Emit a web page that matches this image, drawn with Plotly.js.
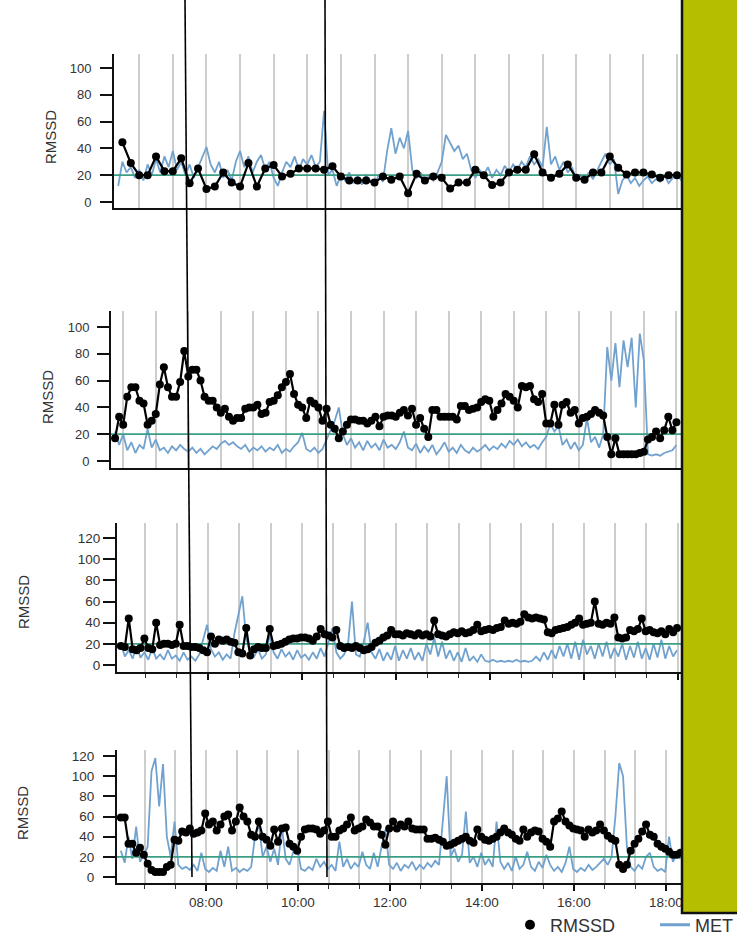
<!DOCTYPE html>
<html><head><meta charset="utf-8">
<script src="https://cdn.plot.ly/plotly-3.0.1.min.js"></script>
<style>html,body{margin:0;padding:0;background:#fff;overflow:hidden}#chart{width:737px;height:940px}</style>
</head><body><div id="chart"></div>
<script>
const DAY = '2024-01-01';
const THRESHOLD = 20;
const yTitle = 'RMSSD';
const legendNames = ['RMSSD', 'MET'];
const xTickFormat = '%H:%M';

// ---- Panel 1 ----
const p1RmssdStart = '06:20', p1RmssdStep = 10;
const p1Rmssd = [44.5,29,20,20,34,23,23,32.6,14,25,9.7,11.5,22,14.5,11.5,29,11.5,25,27.6,19,21,25,25,25,24,26.6,
  19,16,16,16,14.5,19,16.5,19,6.5,21,16,19,18,10,14.5,14.5,24,20,12.7,14.5,22,24,24,35.6,22,18,21,28,18,16.5,
  22,22,34,25.6,20.5,22,22,20.5,18,20,20];
const p1MetStart = '06:15', p1MetStep = 5;
const p1Met = [12,30,22,26,18,24,16,28,20,32, 22,34,26,38,24,30,20,28,18,26, 34,41,28,22,30,18,24,16,30,38,
  26,34,22,30,35,24,30,18,12,22, 30,26,34,24,32,28,35,26,30,68, 20,24,12,20,16,22,14,19,13,20,
  16,12,20,15,38,55,36,48,40,53, 24,18,22,14,20,16,22,30,50,44, 38,42,32,36,24,18,24,20,26,18,
  24,20,27,22,28,24,30,26,34,28, 32,26,56,28,34,24,30,22,26,16, 20,15,22,17,24,30,36,28,32,6,
  16,20,14,18,12,16,19,14,17,15, 20,14,18,22,16];

// ---- Panel 2 ----
const p2Start = '06:30', p2Step = 5;
const p2Rmssd = [17,33,27,48,55,55,45,43,27,30, 35,57,70,55,48,48,59,82,63,68, 68,60,48,45,45,40,36,39,33,30,
  32,32,39,40,40,42,35,36,44,45, 49,55,59,65,50,42,40,32,45,43, 40,30,39,27,24,17,22,27,31,31,
  30,30,28,30,33,26,33,34,34,33, 36,38,34,39,27,32,24,18,38,38, 33,33,33,33,31,41,41,38,39,40,
  44,46,45,33,38,43,50,48,45,40, 56,55,56,46,44,50,28,28,42,27, 42,44,36,38,28,32,33,35,38,36,
  34,18,5,17,5,5,5,5,5,6, 7,16,18,22,17,23,33,23,29];
const p2Met = [22,12,20,8,14,6,12,9,24,10, 16,8,10,6,11,8,12,9,7,10, 6,9,5,8,11,9,13,15,12,14,
  11,9,12,7,10,8,11,7,10,8, 12,6,9,7,11,14,21,9,7,10, 6,9,16,24,30,40,20,12,17,10,
  14,8,15,10,13,8,16,10,12,9, 14,22,10,8,13,6,11,7,12,5, 9,14,7,10,6,12,8,6,10,7,
  9,12,8,11,9,13,10,15,12,16, 11,14,10,12,9,14,18,28,22,26, 12,16,9,14,8,12,32,14,18,10,
  20,85,60,88,55,90,70,92,40,95, 75,5,4,5,4,6,7,8,12];

// ---- Panel 3 ----
const p3Start = '06:09', p3Step = 5;
const p3Rmssd = [18,17,44,15,14,16,25,16,15,40, 19,20,20,19,20,38,18,18,17,17, 16,14,12,27,20,24,23,24,22,21,
  12,11,35,9,15,17,16,16,34,18, 19,20,22,24,25,25,26,26,25,23, 27,34,29,28,26,33,18,16,17,16,
  18,16,14,15,17,21,23,26,28,33, 29,29,28,30,29,28,30,28,29,27, 42,29,28,27,29,31,30,32,30,31,
  33,38,32,33,34,33,35,36,42,39, 40,39,41,48,45,44,45,44,43,31, 30,33,34,35,36,38,40,44,38,39,
  40,60,39,38,40,39,45,26,25,26, 33,32,34,44,32,33,31,30,32,29, 34,31,35];
const p3Met = [20,8,14,6,18,7,12,5,16,6, 10,5,14,6,9,4,12,5,8,4, 10,25,38,15,8,12,5,10,6,30,
  48,65,25,12,8,15,6,10,28,12, 6,15,8,12,5,14,7,10,5,12, 6,16,8,22,35,12,6,10,20,60,
  10,8,22,40,12,6,15,4,12,5, 18,4,14,6,16,5,12,4,20,10, 26,8,22,6,14,4,12,3,16,4,
  8,3,10,4,3,5,3,4,3,4, 3,5,3,4,3,4,8,4,12,5, 14,6,18,8,20,6,22,5,24,10,
  18,6,20,8,22,6,16,8,20,5, 18,7,22,6,16,5,20,7,24,6, 18,8,14];

// ---- Panel 4 ----
const p4Start = '06:09', p4Step = 5;
const p4Rmssd = [59,59,33,33,24,29,22,13,7,5, 5,5,10,12,37,36,45,44,48,43, 44,46,63,52,55,46,52,60,62,46,
  55,69,60,55,42,40,55,40,37,31, 47,35,48,49,33,30,26,40,47,48, 48,47,43,46,55,40,40,46,48,52,
  59,46,48,50,57,54,50,50,42,32, 48,55,48,52,50,55,48,47,47,47, 38,38,39,37,35,31,32,34,36,38,
  40,36,34,47,40,37,36,38,40,44, 48,44,42,38,36,47,40,44,46,45, 38,35,30,55,58,65,55,51,48,47,
  46,40,47,44,46,52,46,41,38,36, 12,8,12,26,33,38,45,52,42,40, 33,30,28,25,22,22,24];
const p4Met = [26,14,40,18,50,15,22,30,105,118, 70,112,40,20,55,12,8,10,7,12, 6,24,8,5,9,6,26,10,30,6,
  9,5,8,6,10,40,52,20,30,15, 28,12,50,18,12,25,30,8,6,10, 7,18,10,15,8,12,6,35,10,18,
  8,14,10,25,12,8,24,10,30,47, 12,8,14,6,12,9,15,7,12,8, 14,10,16,12,56,100,20,28,15,22,
  65,14,20,10,24,12,18,10,55,15, 8,14,6,20,8,12,25,10,6,15, 9,22,12,6,10,5,14,30,8,5,
  9,6,12,7,10,14,18,12,20,60, 113,100,30,10,6,12,8,20,24,10, 6,8,5,40,15,22,18];

// y tick values per panel
const p1YTicks = [0,20,40,60,80,100];
const p2YTicks = [0,20,40,60,80,100];
const p3YTicks = [0,20,40,60,80,100,120];
const p4YTicks = [0,20,40,60,80,100,120];

// ---------- helpers ----------
function times(start, stepMin, n) {
  const [h, m] = start.split(':').map(Number);
  const out = [];
  for (let i = 0; i < n; i++) {
    const t = h * 60 + m + i * stepMin;
    out.push(DAY + ' ' + String(Math.floor(t / 60)).padStart(2, '0') + ':' + String(t % 60).padStart(2, '0'));
  }
  return out;
}
const W = 737, H = 940;
const fx = p => p / W;
const fy = p => 1 - p / H;
const D = s => DAY + ' ' + s;

const COL_MET = '#71a2cf', COL_THR = '#3a9e84', COL_R = '#000000';
const GRID = '#cdcdcd';

const panels = [
  {rx: times(p1RmssdStart, p1RmssdStep, p1Rmssd.length), r: p1Rmssd,
   mx: times(p1MetStart, p1MetStep, p1Met.length), m: p1Met,
   range: [D('06:10'), D('18:29')], xl: 114, yt: 54, yb: 208, yr: [-4.5, 110.4], yticks: p1YTicks,
   xticks: false, xlabels: false, font: 13, standoff: 6, titleX: 50, titleY: 137},
  {rx: times(p2Start, p2Step, p2Rmssd.length), r: p2Rmssd,
   mx: times(p2Start, p2Step, p2Met.length), m: p2Met,
   range: [D('06:25'), D('19:12')], xl: 111, yt: 311, yb: 468, yr: [-5.2, 111.9], yticks: p2YTicks,
   xticks: false, xlabels: false, font: 13, standoff: 5, titleX: 47, titleY: 397},
  {rx: times(p3Start, p3Step, p3Rmssd.length), r: p3Rmssd,
   mx: times(p3Start, p3Step, p3Met.length), m: p3Met,
   range: [D('06:04'), D('19:13')], xl: 117, yt: 523, yb: 672, yr: [-6.6, 134.2], yticks: p3YTicks,
   xticks: true, xlabels: false, font: 13.5, standoff: 0, titleX: 23, titleY: 602},
  {rx: times(p4Start, p4Step, p4Rmssd.length), r: p4Rmssd,
   mx: times(p4Start, p4Step, p4Met.length), m: p4Met,
   range: [D('06:04'), D('19:30')], xl: 117, yt: 750, yb: 883, yr: [-6, 126], yticks: p4YTicks,
   xticks: true, xlabels: true, font: 13.5, standoff: 6, titleX: 22, titleY: 813},
];

const traces = [];
const layout = {
  width: W, height: H,
  margin: {l: 0, r: 0, t: 0, b: 0, pad: 0, autoexpand: false},
  paper_bgcolor: '#fff', plot_bgcolor: 'rgba(0,0,0,0)',
  font: {family: 'Liberation Sans, Arial, sans-serif', color: '#333'},
  showlegend: true,
  legend: {orientation: 'h', x: fx(510), xanchor: 'left', y: fy(925), yanchor: 'middle',
           font: {size: 18, color: '#333'}, bgcolor: 'rgba(0,0,0,0)', entrywidth: 100, entrywidthmode: 'pixels'},
  annotations: [], shapes: []
};

panels.forEach((p, k) => {
  const n = k === 0 ? '' : String(k + 1);
  const xa = 'x' + n, ya = 'y' + n;
  traces.push({x: p.mx, y: p.m, xaxis: xa, yaxis: ya, mode: 'lines', showlegend: false,
               line: {color: COL_MET, width: 1.8}, hoverinfo: 'skip'});
  traces.push({x: p.range, y: [THRESHOLD, THRESHOLD], xaxis: xa, yaxis: ya, mode: 'lines', showlegend: false,
               line: {color: COL_THR, width: 1.8}, hoverinfo: 'skip'});
  traces.push({x: p.rx, y: p.r, xaxis: xa, yaxis: ya, mode: 'lines+markers', showlegend: false,
               line: {color: COL_R, width: 2.2}, marker: {color: COL_R, size: 8}});
  layout['xaxis' + n] = {
    type: 'date', domain: [fx(p.xl), fx(735)], range: p.range, anchor: ya,
    showline: true, linecolor: '#111', linewidth: 2, zeroline: false,
    tick0: D('00:00'), dtick: 7200000,
    showgrid: true, gridcolor: GRID, gridwidth: 2,
    ticks: p.xticks ? 'outside' : '', ticklen: 6, tickwidth: 1.5, tickcolor: '#111',
    showticklabels: p.xlabels, tickformat: xTickFormat, tickfont: {size: 13.5, color: '#333'},
    minor: {tick0: D('00:00'), dtick: 2400000, showgrid: true, gridcolor: GRID, gridwidth: 2,
            ticks: p.xticks ? 'outside' : '', ticklen: 4, tickwidth: 1, tickcolor: '#333'},
    fixedrange: true
  };
  layout['yaxis' + n] = {
    domain: [fy(p.yb), fy(p.yt)], range: p.yr, anchor: xa,
    showline: true, linecolor: '#111', linewidth: 2, zeroline: false, showgrid: false,
    tickmode: 'array', tickvals: p.yticks, ticks: 'outside', ticklen: 12, tickwidth: 2, tickcolor: '#111',
    tickfont: {size: p.font, color: '#333'}, ticklabelstandoff: p.standoff, fixedrange: true
  };
  layout.annotations.push({xref: 'paper', yref: 'paper', x: fx(p.titleX), y: fy(p.titleY),
    text: yTitle, textangle: -90, showarrow: false, xanchor: 'center', yanchor: 'middle',
    font: {size: 15, color: '#333'}});
});

// legend entries
traces.push({x: [null], y: [null], xaxis: 'x4', yaxis: 'y4', mode: 'markers', name: legendNames[0],
             marker: {color: COL_R, size: 10}});
traces.push({x: [null], y: [null], xaxis: 'x4', yaxis: 'y4', mode: 'lines', name: legendNames[1],
             line: {color: COL_MET, width: 3}});

// overlay: annotation lines and covering box
layout.shapes.push({type: 'line', xref: 'paper', yref: 'paper', x0: fx(185), y0: fy(0), x1: fx(192), y1: fy(877),
                    line: {color: '#000', width: 1.6}, layer: 'above'});
layout.shapes.push({type: 'line', xref: 'paper', yref: 'paper', x0: fx(325), y0: fy(0), x1: fx(327), y1: fy(877),
                    line: {color: '#000', width: 1.6}, layer: 'above'});
layout.shapes.push({type: 'rect', xref: 'paper', yref: 'paper', x0: fx(682), x1: 1.02, y0: fy(913), y1: 1.02,
                    fillcolor: '#b6be00', line: {color: '#111', width: 2.5}, layer: 'above'});

Plotly.newPlot('chart', traces, layout, {displayModeBar: false, staticPlot: true});
</script>
</body></html>
